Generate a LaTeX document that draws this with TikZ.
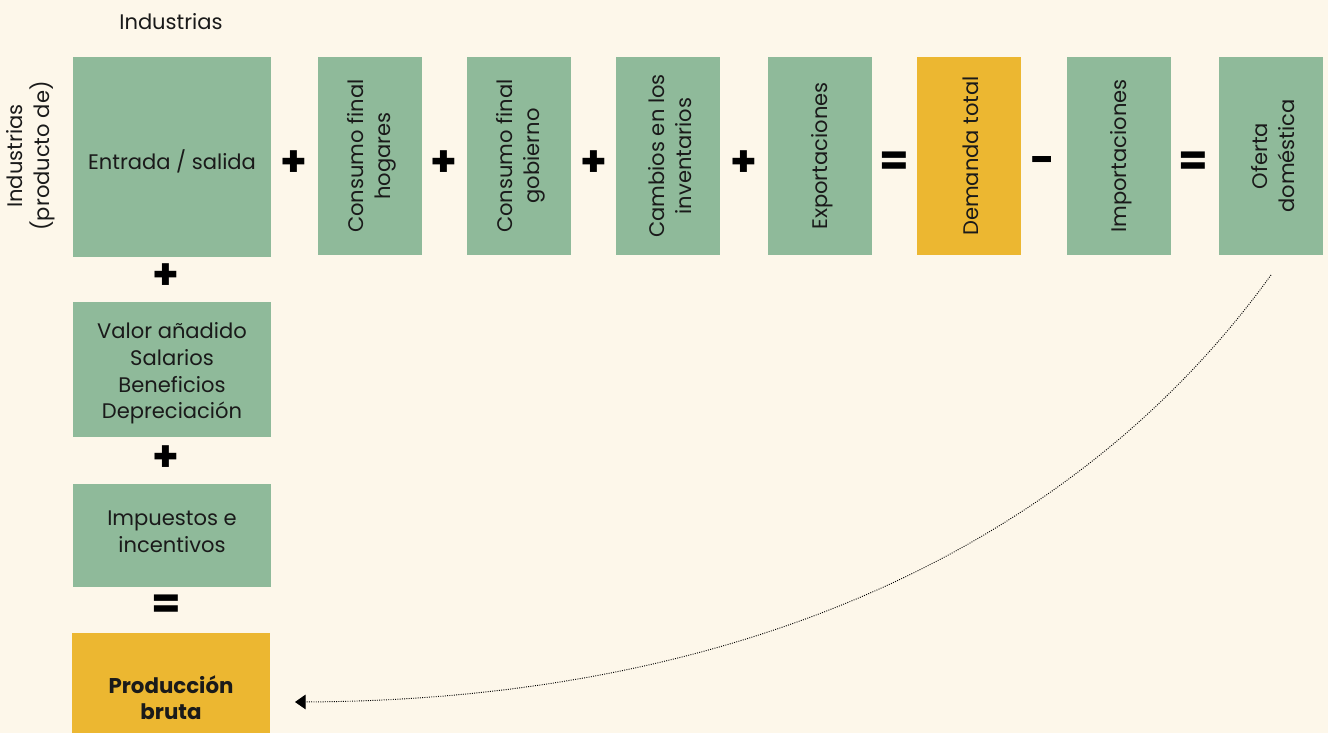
\documentclass[tikz,border=0pt]{standalone}
\usepackage{fontspec}
\setmainfont{Poppins}
\usetikzlibrary{arrows.meta}
\definecolor{bg}{HTML}{FDF7EA}
\definecolor{gr}{HTML}{8FBA9A}
\definecolor{yl}{HTML}{ECB731}
\definecolor{tx}{HTML}{1A1A1A}
\tikzset{
  base/.style={inner sep=0pt, outer sep=0pt, text=tx, align=center, font=\fontsize{15.8}{20}\selectfont},
  hbox/.style={inner sep=0pt, outer sep=0pt, fill=gr, minimum width=148.5pt},
  vbox/.style={inner sep=0pt, outer sep=0pt, fill=gr, minimum width=78pt, minimum height=148.5pt},
  htext/.style={base},
  vtext/.style={base, rotate=90},
  op/.style={inner sep=0pt, text=black, font=\fontsize{32}{32}\selectfont\bfseries},
  link/.style={densely dotted, line width=0.7pt, -{Triangle[length=8pt, width=11pt]}}
}
\begin{document}
\begin{tikzpicture}[x=0.75pt, y=-0.75pt]
\fill[bg] (0,0) rectangle (1328,733);
\useasboundingbox (0,0) rectangle (1328,733);
% labels
\node[htext] (ind) at (171,22) {Industrias};
\node[vtext] (indp) at (31,156) {Industrias\\(producto de)};
% top row boxes
\node[hbox, minimum height=150pt] (es) at (172,157) {};
\node[vbox] (ch) at (370,156) {};
\node[vbox] (cg) at (519,156) {};
\node[vbox] (ci) at (668,156) {};
\node[vbox] (ex) at (820,156) {};
\node[vbox, fill=yl] (dt) at (969,156) {};
\node[vbox] (im) at (1119,156) {};
\node[vbox] (od) at (1271,156) {};
% top row texts
\node[htext] (es-t) at ([yshift=-3pt]es.center) {Entrada / salida};
\node[vtext] (ch-t) at ([xshift=1.5pt]ch.center) {Consumo final\\hogares};
\node[vtext] (cg-t) at ([xshift=1.5pt]cg.center) {Consumo final\\gobierno};
\node[vtext] (ci-t) at ([xshift=1.5pt]ci.center) {Cambios en los\\inventarios};
\node[vtext] (ex-t) at ([xshift=1.5pt]ex.center) {Exportaciones};
\node[vtext] (dt-t) at ([xshift=1.5pt]dt.center) {Demanda total};
\node[vtext] (im-t) at ([xshift=1.5pt]im.center) {Importaciones};
\node[vtext] (od-t) at ([xshift=1.5pt]od.center) {Oferta\\doméstica};
% operators top
\node[op] (p1) at (294,164) {+};
\node[op] (p2) at (444,164) {+};
\node[op] (p3) at (594,164) {+};
\node[op] (p4) at (744,164) {+};
\node[op] (e1) at (894,164) {=};
\node[op] (m1) at (1043,165) {-};
\node[op] (e2) at (1193,164) {=};
% left column
\node[hbox, minimum height=101.25pt] (va) at (172,369.5) {};
\node[hbox, minimum height=77.25pt] (ie) at (172,535.5) {};
\node[hbox, fill=yl, minimum height=75pt] (pb) at (171,683) {};
\node[htext] (va-t) at ([yshift=-3pt]va.center) {Valor añadido\\Salarios\\Beneficios\\Depreciación};
\node[htext] (ie-t) at ([yshift=3pt]ie.center) {Impuestos e\\incentivos};
\node[htext, font=\fontsize{16}{20}\selectfont\bfseries] (pb-t) at ([yshift=-11pt]pb.center) {Producción\\bruta};
\node[op] (p5) at (166,277) {+};
\node[op] (p6) at (166,459) {+};
\node[op] (e3) at (166,607) {=};
% connector
\coordinate (s) at (1271,275);
\coordinate (t) at (295,702);
\draw[link] (s) .. controls (1080,540) and (750,700) .. (t);
\end{tikzpicture}
\end{document}
